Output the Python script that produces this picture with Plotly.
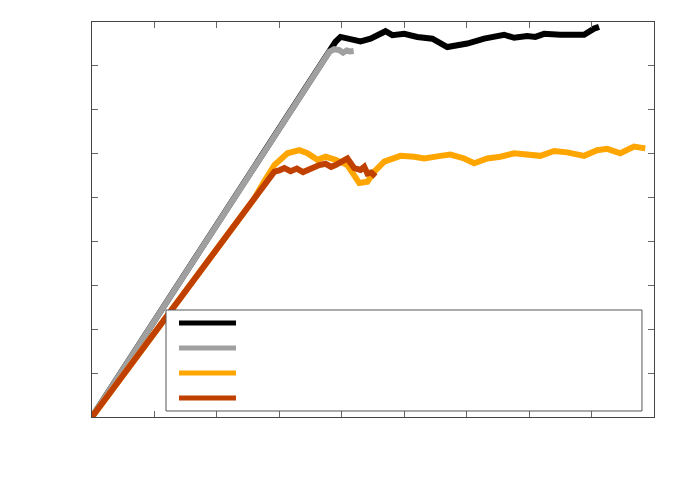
import plotly.graph_objects as go

# values (axes have no labels, so units are arbitrary 0..9)
black_x = [0, 3.82, 3.90, 3.98, 4.14, 4.30, 4.46, 4.70, 4.81, 5.00, 5.21, 5.45, 5.69, 5.85,
           6.01, 6.28, 6.45, 6.60, 6.76, 6.97, 7.10, 7.24, 7.50, 7.77, 7.88, 8.04, 8.12]
black_y = [0, 8.36, 8.55, 8.66, 8.62, 8.56, 8.62, 8.79, 8.70, 8.73, 8.66, 8.62, 8.43, 8.47,
           8.51, 8.62, 8.66, 8.71, 8.64, 8.68, 8.66, 8.73, 8.71, 8.73, 8.71, 8.85, 8.89]

gray_x = [0, 3.80, 3.88, 3.96, 4.02, 4.08, 4.13, 4.19]
gray_y = [0, 8.32, 8.38, 8.36, 8.30, 8.35, 8.33, 8.34]

orange_x = [0, 2.60, 2.75, 2.92, 3.13, 3.32, 3.45, 3.61, 3.74, 3.90, 4.09, 4.20, 4.28, 4.41,
            4.52, 4.68, 4.94, 5.16, 5.32, 5.58, 5.74, 5.96, 6.12, 6.33, 6.54, 6.76, 6.97,
            7.18, 7.40, 7.61, 7.88, 8.09, 8.25, 8.46, 8.68, 8.86]
orange_y = [0, 4.98, 5.35, 5.74, 6.01, 6.08, 6.01, 5.86, 5.93, 5.86, 5.74, 5.52, 5.33, 5.36,
            5.59, 5.82, 5.95, 5.93, 5.89, 5.95, 5.98, 5.89, 5.78, 5.89, 5.93, 6.01, 5.98,
            5.95, 6.06, 6.03, 5.95, 6.08, 6.11, 6.01, 6.16, 6.12]

darkorange_x = [0, 2.92, 3.00, 3.08, 3.18, 3.28, 3.38, 3.45, 3.55, 3.64, 3.74, 3.83, 3.90,
                4.00, 4.09, 4.20, 4.30, 4.36, 4.41, 4.47, 4.54]
darkorange_y = [0, 5.59, 5.62, 5.67, 5.60, 5.66, 5.58, 5.62, 5.70, 5.74, 5.77, 5.70, 5.74,
                5.80, 5.89, 5.67, 5.63, 5.70, 5.55, 5.57, 5.48]

series = [
    (black_x, black_y, '#000000'),
    (gray_x, gray_y, '#a0a0a0'),
    (orange_x, orange_y, '#ffa500'),
    (darkorange_x, darkorange_y, '#c04000'),
]

fig = go.Figure()
for xs, ys, col in series:
    fig.add_trace(go.Scatter(x=xs, y=ys, mode='lines', line=dict(color=col, width=6),
                             showlegend=False))

# hand-made key box (labels are empty in the original)
fig.add_shape(type='rect', xref='paper', yref='paper', x0=0.1317, x1=0.9786, y0=0.0152, y1=0.2709,
              line=dict(color='#555555', width=1), fillcolor='white', layer='above')
key_y = [0.238, 0.175, 0.1114, 0.0481]
for (xs, ys, col), ky in zip(series, key_y):
    fig.add_shape(type='line', xref='paper', yref='paper', x0=0.1548, x1=0.2562, y0=ky, y1=ky,
                  line=dict(color=col, width=5), layer='above')

ax = dict(showline=True, linecolor='#444444', linewidth=1, mirror='ticks', ticks='inside',
          ticklen=6, tickcolor='#666666', showticklabels=False, showgrid=False, zeroline=False,
          dtick=1, tick0=0)
fig.update_xaxes(range=[0, 9], **ax)
fig.update_yaxes(range=[0, 9], **ax)
# page body adds ~7px, so margins are trimmed on the top/left
fig.update_layout(width=692, height=485, margin=dict(l=84, r=46, t=14, b=76),
                  plot_bgcolor='white', paper_bgcolor='white')

fig.write_html("out.html")
